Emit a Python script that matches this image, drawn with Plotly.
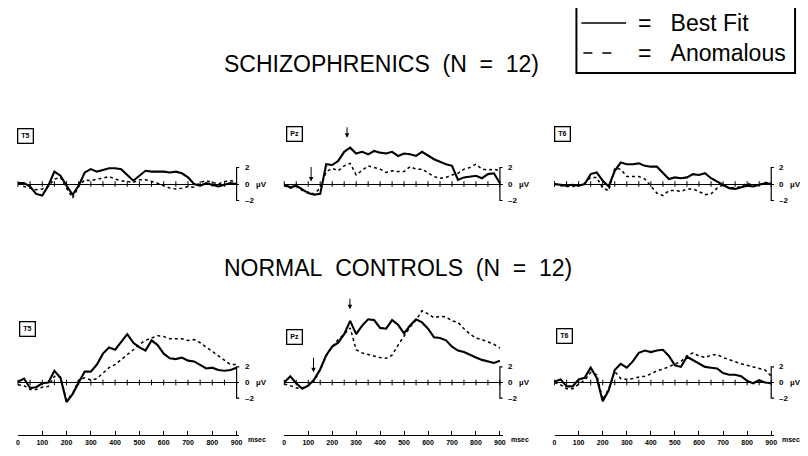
import plotly.graph_objects as go

# the page body has an 8px margin, so the figure is drawn at (8, 8) in the window
PAGE_OFF = 8
W, H = 808 - PAGE_OFF, 456 - PAGE_OFF

# ---------------- data (µV) ----------------
T_MS = list(range(0, 901, 25))           # sample times, ms
TICK_MS = list(range(0, 901, 50))        # small ticks on each baseline
RULER_MS = list(range(0, 901, 100))      # time rulers under each column
RULER_LABELS = [str(v) for v in RULER_MS]
ELECTRODES = ["T5", "Pz", "T6"]
GROUP_TITLES = ["SCHIZOPHRENICS\u00a0\u00a0(N\u00a0\u00a0=\u00a0\u00a012)",
                "NORMAL\u00a0\u00a0CONTROLS\u00a0\u00a0(N\u00a0\u00a0=\u00a0\u00a012)"]
SERIES_NAMES = ["Best Fit", "Anomalous"]
SCALE_UV = 2

# Schizophrenics
SZ_T5_BEST = [0.1, 0.1, -0.3, -1.2, -1.4, -0.2, 1.5, 1.0, -0.2, -1.3, -0.2, 1.4, 1.8, 1.5, 1.7, 1.9, 1.9, 1.8, 1.1,
              0.4, 1.0, 1.6, 1.5, 1.5, 1.5, 1.4, 1.5, 1.3, 0.8, 0.0, -0.2, 0.1, -0.1, -0.3, -0.1, 0.1, 0.0]
SZ_T5_ANOM = [0.1, -0.3, -0.5, -0.7, -0.6, -0.3, 0.6, 0.8, -0.5, -1.7, -0.3, 0.5, 0.4, 0.6, 0.7, 0.9, 0.6, 0.4, 0.3,
              0.2, 0.5, 0.5, 0.3, 0.1, -0.2, -0.5, -0.6, -0.5, -0.3, -0.4, 0.2, 0.4, 0.2, 0.0, 0.3, 0.4, 0.3]
SZ_PZ_BEST = [-0.1, -0.4, -0.2, -0.7, -1.1, -1.3, -1.2, 2.4, 2.3, 2.8, 3.9, 4.4, 3.7, 3.9, 3.6, 4.0, 3.8, 3.7, 3.9,
              3.4, 3.7, 3.6, 3.4, 3.9, 3.4, 3.0, 2.7, 2.4, 2.2, 0.5, 0.8, 0.9, 1.0, 0.7, 1.2, 1.3, 0.1]
SZ_PZ_ANOM = [-0.2, -0.5, -0.3, -0.8, -1.0, -1.2, -0.5, 1.5, 1.9, 1.6, 2.2, 2.5, 1.1, 1.6, 2.2, 2.0, 1.8, 1.4, 1.6,
              1.5, 1.5, 2.1, 1.8, 1.8, 1.3, 0.9, 0.7, 0.8, 1.1, 1.3, 1.8, 2.0, 2.4, 1.8, 1.7, 1.8, 1.6]
SZ_T6_BEST = [0.0, -0.1, -0.2, -0.1, -0.2, 0.0, 1.2, 1.4, 0.4, -0.3, 1.6, 2.6, 2.4, 2.4, 2.5, 2.2, 2.1, 2.1, 1.4,
              0.6, 0.8, 0.7, 0.8, 1.2, 1.1, 1.3, 0.7, 0.3, 0.0, -0.5, -0.6, -0.4, -0.2, -0.3, -0.1, 0.1, 0.0]
SZ_T6_ANOM = [0.0, -0.2, -0.3, -0.3, -0.2, 0.1, 0.8, 0.8, -0.5, -0.8, 1.9, 1.8, 0.9, 0.9, 0.9, 0.6, -0.3, -1.1, -1.4,
              -0.8, -0.8, -0.9, -0.6, -0.6, -0.9, -1.3, -1.2, -0.5, -0.1, -0.4, -0.5, -0.3, 0.1, -0.2, -0.1, 0.2, 0.0]
# Normal controls
NC_T5_BEST = [0.1, 0.5, -0.7, -0.6, -0.1, 0.0, 1.5, 0.6, -2.5, -1.5, 0.0, 1.4, 1.4, 2.3, 3.7, 4.5, 4.2, 5.2, 6.2,
              5.1, 4.5, 4.1, 5.4, 4.8, 3.7, 3.1, 3.0, 3.2, 2.8, 2.7, 2.3, 1.8, 1.9, 1.6, 1.5, 1.6, 1.9]
NC_T5_ANOM = [-0.3, -0.4, -0.9, -0.9, -0.6, -0.5, 0.8, 0.7, -2.3, -1.4, 0.3, 0.6, 0.3, 0.5, 1.2, 1.9, 2.3, 2.9, 3.6,
              4.2, 4.9, 5.4, 5.7, 6.0, 5.9, 5.6, 5.6, 5.6, 5.4, 5.5, 5.1, 4.6, 4.0, 3.4, 2.9, 2.3, 2.3]
NC_PZ_BEST = [0.0, 0.8, -0.1, -0.8, -0.4, 0.4, 1.7, 3.5, 4.6, 5.1, 6.2, 7.9, 6.2, 7.3, 8.1, 8.0, 7.0, 6.9, 8.0,
              7.4, 6.3, 7.3, 8.1, 7.7, 6.9, 5.8, 5.7, 5.4, 4.6, 4.1, 3.9, 3.5, 3.2, 2.9, 2.7, 2.5, 2.8]
NC_PZ_ANOM = [-0.2, -0.4, -0.7, -0.7, -0.4, 0.2, 1.6, 3.4, 4.6, 5.5, 6.2, 7.0, 4.2, 3.8, 3.6, 3.4, 3.2, 3.1, 3.5,
              4.8, 6.0, 7.1, 8.0, 9.2, 8.8, 8.3, 8.5, 8.4, 7.9, 7.7, 6.9, 6.2, 5.7, 5.5, 5.2, 4.9, 4.4]
NC_T6_BEST = [0.1, 0.4, -0.5, -0.5, 0.4, 0.6, 1.9, 0.6, -2.4, -1.0, 1.6, 2.4, 1.9, 2.7, 3.8, 4.1, 3.9, 4.1, 4.2,
              3.4, 2.2, 2.0, 3.3, 2.9, 2.4, 2.0, 1.9, 1.8, 1.2, 1.0, 1.0, 0.8, 0.2, -0.1, 0.3, 0.0, -0.1]
NC_T6_ANOM = [0.0, -0.3, -0.8, -0.8, -0.2, 0.3, 1.3, 1.0, -2.2, -0.8, 1.4, 0.5, 0.4, 0.5, 0.7, 0.8, 1.1, 1.5, 1.7,
              2.0, 2.4, 2.7, 3.4, 3.8, 3.4, 3.2, 3.5, 3.6, 3.2, 2.9, 2.6, 2.4, 2.2, 2.0, 1.8, 1.6, 0.8]

PANELS = [
    [(SZ_T5_BEST, SZ_T5_ANOM), (SZ_PZ_BEST, SZ_PZ_ANOM), (SZ_T6_BEST, SZ_T6_ANOM)],
    [(NC_T5_BEST, NC_T5_ANOM), (NC_PZ_BEST, NC_PZ_ANOM), (NC_T6_BEST, NC_T6_ANOM)],
]
# arrows over Pz: (time ms, tip µV) per group
PZ_ARROWS = [[(112, 0.3), (262, 5.6)], [(122, 1.3), (274, 9.4)]]

# ---------------- layout geometry (window pixels) ----------------
CAP_MS = 12
X_RANGE = [0, 900 + CAP_MS]
COL_PX = [(16, 236), (284, 501), (556, 774)]         # pixel of 0 ms and 900 ms
ROW_PX = [(118, 215, 184.0, 8.25), (280, 412, 382.5, 7.8)]  # top px, bottom px, baseline px, px per µV
BOX_PX = [[(24, 135.5), (294.5, 134), (564, 133.5)], [(26, 328.5), (294, 337), (566, 336)]]
RULER_Y_PX = 435
FONT = "Liberation Sans"


def fx(p):
    return (p - PAGE_OFF) / W


def fy(p):
    return 1 - (p - PAGE_OFF) / H


fig = go.Figure()
layout_axes = {}
annotations = []
shapes = []

for r in range(2):
    top_px, bot_px, base_px, scale = ROW_PX[r]
    y_range = [-(bot_px - base_px) / scale, (base_px - top_px) / scale]
    for c in range(3):
        i = r * 3 + c + 1
        xa, ya = f"x{i}", f"y{i}"
        a, b = COL_PX[c]
        right = a + (b - a) * X_RANGE[1] / 900
        xkey = "xaxis" if i == 1 else f"xaxis{i}"
        ykey = "yaxis" if i == 1 else f"yaxis{i}"
        xdict = dict(domain=[fx(a), fx(right)], range=X_RANGE, showgrid=False, zeroline=False,
                     fixedrange=True)
        if r == 0:
            xdict.update(visible=False, anchor=ya)
        else:
            xdict.update(visible=True, anchor="free", position=fy(RULER_Y_PX), showline=True,
                         linecolor="black", linewidth=1.2, ticks="inside", ticklen=4, tickwidth=1,
                         tickcolor="black", tickvals=RULER_MS, ticktext=RULER_LABELS,
                         tickfont=dict(family=FONT, size=7, color="black", weight="bold"))
        layout_axes[xkey] = xdict
        layout_axes[ykey] = dict(domain=[fy(bot_px), fy(top_px)], range=y_range, anchor=xa,
                                 showgrid=False, showline=False, showticklabels=False, ticks="",
                                 zeroline=True, zerolinecolor="black", zerolinewidth=1.3, fixedrange=True)

        best, anom = PANELS[r][c]
        fig.add_trace(go.Scatter(x=T_MS, y=anom, mode="lines", xaxis=xa, yaxis=ya, name=SERIES_NAMES[1],
                                 line=dict(color="black", width=1.5, dash="dot"), showlegend=False))
        fig.add_trace(go.Scatter(x=T_MS, y=best, mode="lines", xaxis=xa, yaxis=ya, name=SERIES_NAMES[0],
                                 line=dict(color="black", width=2.1), showlegend=False))
        # baseline ticks
        fig.add_trace(go.Scatter(x=TICK_MS, y=[0] * len(TICK_MS), mode="markers", xaxis=xa, yaxis=ya,
                                 marker=dict(symbol="line-ns", size=4, line=dict(width=1, color="black")),
                                 cliponaxis=False, showlegend=False, hoverinfo="skip"))
        # calibration bar
        fig.add_trace(go.Scatter(x=[900 + CAP_MS, 900, 900, 900 + CAP_MS],
                                 y=[SCALE_UV, SCALE_UV, -SCALE_UV, -SCALE_UV], mode="lines",
                                 xaxis=xa, yaxis=ya, line=dict(color="black", width=1.2),
                                 showlegend=False, hoverinfo="skip"))
        small = dict(family=FONT, size=8, color="black", weight="bold")
        for val, txt in [(SCALE_UV, "2"), (0, "0\u00a0\u00a0\u00a0µV"), (-SCALE_UV, "\u2013" + "2")]:
            annotations.append(dict(xref=xa, yref=ya, x=900, y=val, text=txt, showarrow=False,
                                    xanchor="left", xshift=6, font=small))
        # electrode box
        bx, by = BOX_PX[r][c]
        annotations.append(dict(xref="paper", yref="paper", x=fx(bx), y=fy(by), text=ELECTRODES[c],
                                showarrow=False, font=dict(family=FONT, size=7, color="black", weight="bold"),
                                bordercolor="black", borderwidth=1.3, borderpad=3,
                                xanchor="center", yanchor="middle"))
        if c == 1:
            for (t, v), ay in zip(PZ_ARROWS[r], [-16, -12]):
                annotations.append(dict(xref=xa, yref=ya, x=t, y=v, text="", showarrow=True,
                                        ax=0, ay=ay, arrowhead=2, arrowsize=0.9, arrowwidth=1,
                                        arrowcolor="black"))
        if r == 1:
            annotations.append(dict(xref=xa, yref="paper", x=900, y=fy(444.5), text="msec",
                                    showarrow=False, xanchor="left", xshift=9,
                                    font=dict(family=FONT, size=7, color="black", weight="bold")))

# group titles
title_font = dict(family=FONT, size=23, color="black")
annotations.append(dict(xref="paper", yref="paper", x=fx(221), y=fy(64), text=GROUP_TITLES[0],
                        showarrow=False, xanchor="left", yanchor="middle", font=title_font))
annotations.append(dict(xref="paper", yref="paper", x=fx(221), y=fy(268), text=GROUP_TITLES[1],
                        showarrow=False, xanchor="left", yanchor="middle", font=title_font))

# legend box
shapes.append(dict(type="rect", xref="paper", yref="paper", x0=fx(578), x1=fx(798), y0=fy(73), y1=fy(4),
                   line=dict(color="black", width=2)))
shapes.append(dict(type="line", xref="paper", yref="paper", x0=fx(583), x1=fx(628), y0=fy(23), y1=fy(23),
                   line=dict(color="black", width=1.5)))
shapes.append(dict(type="line", xref="paper", yref="paper", x0=fx(585), x1=fx(614), y0=fy(53), y1=fy(53),
                   line=dict(color="black", width=1.5, dash="9px,10px")))
for ypx, name in [(23, SERIES_NAMES[0]), (53, SERIES_NAMES[1])]:
    annotations.append(dict(xref="paper", yref="paper", x=fx(638), y=fy(ypx),
                            text="=\u00a0\u00a0\u00a0" + name, showarrow=False, xanchor="left",
                            yanchor="middle", font=title_font))

fig.update_layout(width=W, height=H, margin=dict(l=0, r=0, t=0, b=0), paper_bgcolor="white",
                  plot_bgcolor="white", showlegend=False, annotations=annotations, shapes=shapes,
                  **layout_axes)

fig.write_html("out.html")
